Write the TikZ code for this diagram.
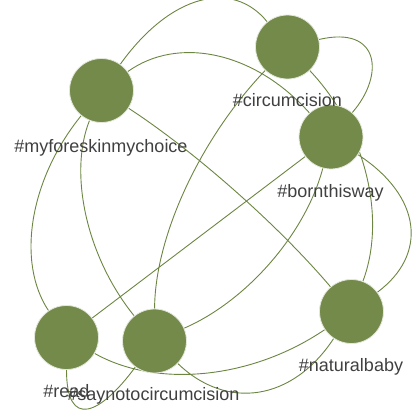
\documentclass[tikz,border=0pt]{standalone}
\usepackage{fontspec}
\setmainfont{Liberation Sans}
\usepackage{xcolor}
\usetikzlibrary{
    backgrounds
}
\definecolor{tagfill}{HTML}{738A4B}
\definecolor{tagline}{HTML}{6C8642}
\definecolor{tagtext}{HTML}{404040}

\begin{document}
\begin{tikzpicture}[x=1pt, y=-1pt,
    tag/.style={circle, fill=tagfill, draw=white!80!tagfill, line width=0.8pt,
        minimum size=64pt, inner sep=0pt},
    taglabel/.style={anchor=base, text=tagtext, inner sep=0pt,
        font=\fontsize{18}{18}\selectfont},
    link/.style={draw=tagline, line width=0.9pt}]
    \useasboundingbox (0, 0) rectangle (414, 416);

    \node[tag] (myforeskin) at (101.5, 90.5) {};
    \node[tag] (circumcision) at (287.5, 47) {};
    \node[tag] (bornthisway) at (331, 137) {};
    \node[tag] (read) at (66.5, 337.5) {};
    \node[tag] (saynoto) at (154.5, 341) {};
    \node[tag] (naturalbaby) at (351.5, 311.5) {};

    \begin{pgfonlayer}{background}
        \draw[link]
        (myforeskin) .. controls (170.8, -6.3) and (232.8, -20.8) .. (circumcision)
        (myforeskin) .. controls (177.7, 35.7) and (254.2, 51.2) .. (bornthisway)
        (myforeskin) .. controls (194.8, 151.5) and (278.2, 225.2) .. (naturalbaby)
        (myforeskin) .. controls (28.5, 180.8) and (16.8, 263.2) .. (read)
        (myforeskin) .. controls (68.5, 173) and (86.2, 256.5) .. (saynoto)
        (circumcision) .. controls (199.2, 139.7) and (154.8, 237.7) .. (saynoto)
        (circumcision) .. controls (380, 25) and (385, 75) .. (bornthisway)
        (circumcision) .. controls (365.5, 129.5) and (386.8, 217.7) .. (naturalbaby)
        (bornthisway) .. controls (421.5, 196.2) and (428.3, 254.3) .. (naturalbaby)
        (bornthisway) -- (read)
        (bornthisway) .. controls (305.8, 233) and (247, 301) .. (saynoto)
        (read) .. controls (156.2, 388.2) and (251.2, 379.5) .. (naturalbaby)
        (read) .. controls (66.5, 430) and (100, 415) .. (saynoto)
        (saynoto) .. controls (226.8, 410.8) and (292.5, 401) .. (naturalbaby);
    \end{pgfonlayer}

    \node[taglabel] (lmyforeskin) at (101, 152) {\#myforeskinmychoice};
    \node[taglabel] (lcircumcision) at (287.5, 106) {\#circumcision};
    \node[taglabel] (lbornthisway) at (330.5, 197) {\#bornthisway};
    \node[taglabel] (lread) at (66.5, 397) {\#read};
    \node[taglabel] (lsaynoto) at (153.5, 400) {\#saynotocircumcision};
    \node[taglabel] (lnaturalbaby) at (351, 371) {\#naturalbaby};
\end{tikzpicture}
\end{document}
